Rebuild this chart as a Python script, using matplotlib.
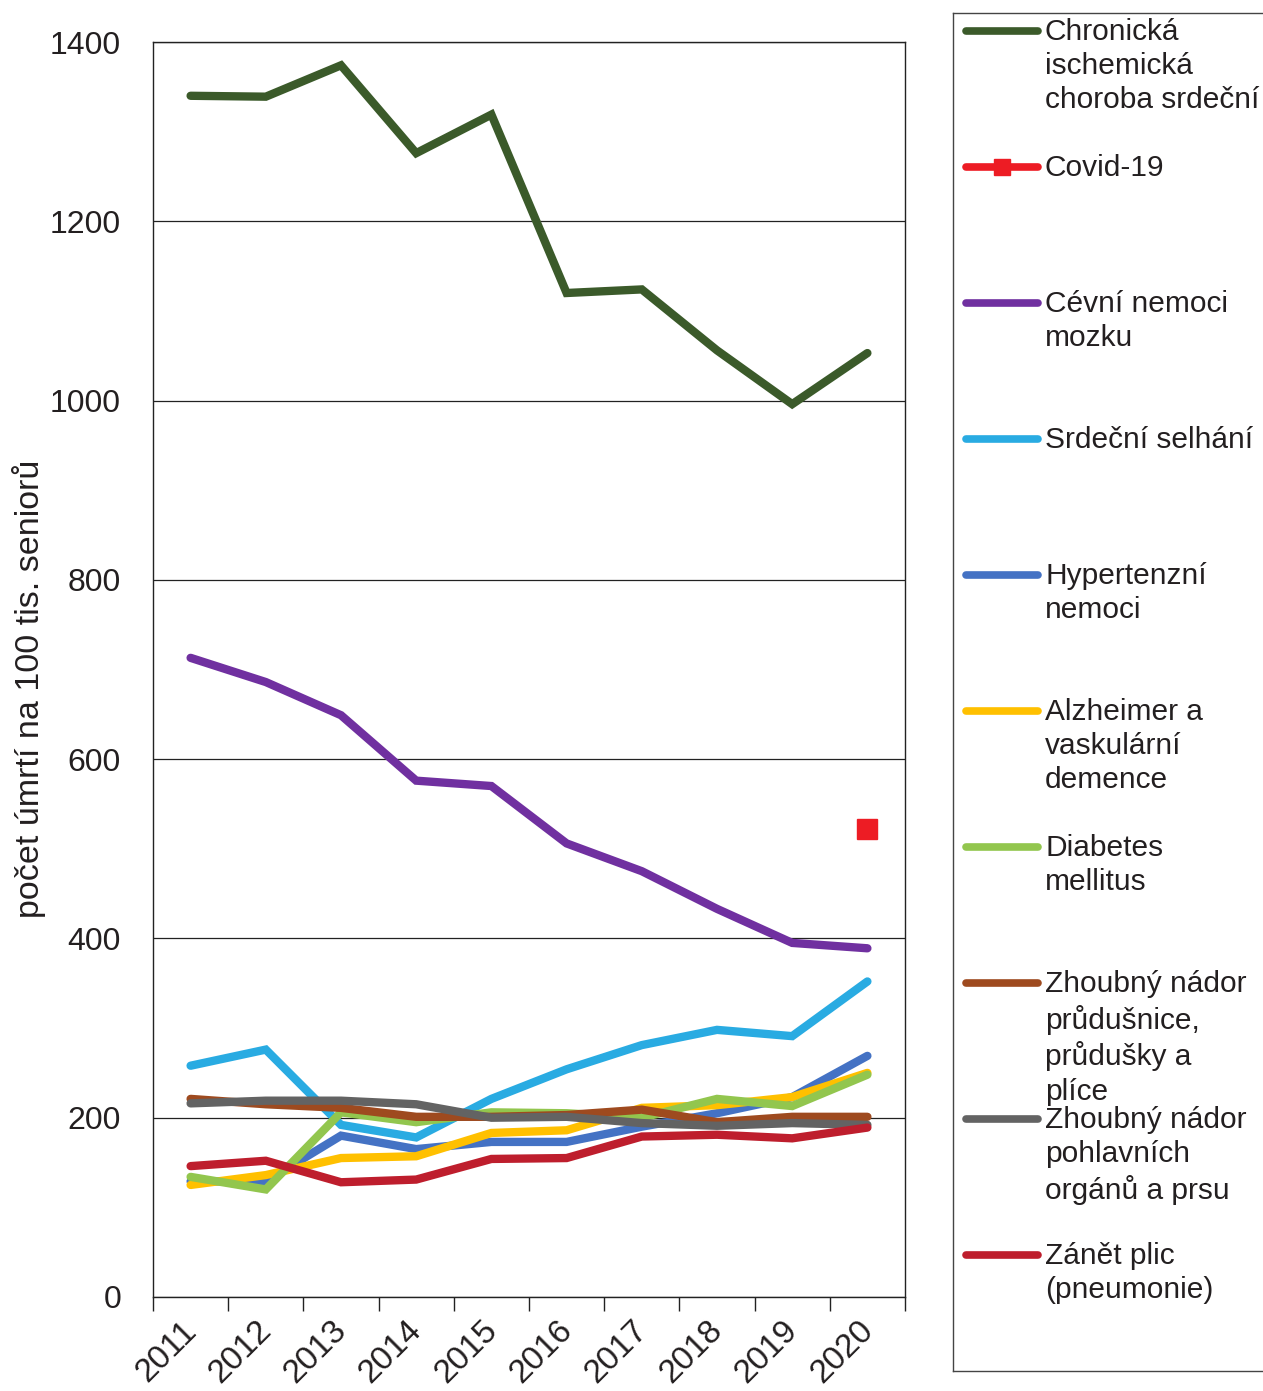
import matplotlib.pyplot as plt
from matplotlib import transforms
import numpy as np

plt.rcParams['font.family'] = ['Liberation Sans', 'DejaVu Sans']

years = ['2011', '2012', '2013', '2014', '2015', '2016', '2017', '2018', '2019', '2020']

ischemic = [1340, 1339, 1374, 1276, 1319, 1120, 1124, 1056, 996, 1053]
covid = [np.nan] * 9 + [522]
cerebro = [713, 686, 649, 576, 570, 506, 475, 433, 395, 389]
heart_fail = [258, 276, 192, 178, 221, 254, 281, 298, 291, 352]
hypert = [129, 129, 180, 165, 173, 173, 190, 205, 223, 269]
alzheimer = [125, 136, 155, 157, 183, 186, 211, 214, 223, 250]
diabetes = [134, 120, 206, 195, 206, 205, 200, 221, 213, 248]
lung_ca = [221, 215, 211, 201, 201, 203, 209, 195, 201, 201]
genital_ca = [216, 219, 219, 215, 200, 201, 194, 191, 194, 192]
pneumonia = [146, 152, 128, 131, 154, 155, 179, 181, 177, 189]

labels = ['Chronická\nischemická\nchoroba srdeční', 'Covid-19', 'Cévní nemoci\nmozku',
          'Srdeční selhání', 'Hypertenzní\nnemoci', 'Alzheimer a\nvaskulární\ndemence',
          'Diabetes\nmellitus', 'Zhoubný nádor\nprůdušnice,\nprůdušky a\nplíce',
          'Zhoubný nádor\npohlavních\norgánů a prsu', 'Zánět plic\n(pneumonie)']
series = [ischemic, covid, cerebro, heart_fail, hypert, alzheimer, diabetes,
          lung_ca, genital_ca, pneumonia]
colors = ['#3B5A2A', '#ED1C24', '#7030A0', '#29ABE2', '#4472C4', '#FFC000',
          '#92C64E', '#9E4A1F', '#636363', '#BE1E2D']
txt_col = '#231F20'

fig = plt.figure(figsize=(12.63, 13.91), dpi=100)
ax = fig.add_axes([153 / 1263, 1 - 1297 / 1391, 752 / 1263, 1255 / 1391])

x = np.arange(len(years))
for i, (vals, c) in enumerate(zip(series, colors)):
    if i == 1:
        ax.plot(x, vals, ls='none', marker='s', ms=15, color=c, zorder=3)
    else:
        ax.plot(x, vals, color=c, lw=6, solid_capstyle='round', solid_joinstyle='miter', zorder=3)

ax.set_xlim(-0.5, 9.5)
ax.set_ylim(0, 1400)
ax.set_yticks(np.arange(0, 1401, 200))
ax.tick_params(axis='y', length=0, labelsize=23, pad=23, labelcolor=txt_col)
ax.grid(axis='y', color='#222222', lw=0.9)
ax.set_axisbelow(True)
ax.set_xticks(x)
ax.set_xticklabels(years, rotation=45, ha='right', va='top', rotation_mode='anchor',
                   fontsize=24, color=txt_col)
ax.tick_params(axis='x', which='major', length=0, pad=13)
ax.set_xticks(np.arange(-0.5, 10, 1), minor=True)
ax.tick_params(axis='x', which='minor', length=10, width=1, color='#222222', direction='out')
for lab in ax.get_xticklabels():
    lab.set_transform(lab.get_transform() + transforms.ScaledTranslation(-0.1, 0, fig.dpi_scale_trans))
for s in ax.spines.values():
    s.set_color('#222222')
    s.set_linewidth(1)
ax.set_ylabel('počet úmrtí na 100 tis. seniorů', fontsize=24.5, color=txt_col)
ax.yaxis.set_label_coords(-0.142, 0.485)

# legend panel
lg = fig.add_axes([953 / 1263, 1 - 1371 / 1391, 320 / 1263, 1358 / 1391])
lg.set_xlim(953, 1273)
lg.set_ylim(1371, 13)
lg.set_xticks([])
lg.set_yticks([])
for s in lg.spines.values():
    s.set_color('#444444')
    s.set_linewidth(1)
for i, (lab, c) in enumerate(zip(labels, colors)):
    yy = 31 + 136 * i
    lg.plot([966, 1038], [yy, yy], color=c, lw=5.5, solid_capstyle='round')
    if i == 1:
        lg.plot([1002], [yy], marker='s', ms=12, color=c)
    lg.text(1045, yy - 13, lab, fontsize=21.5, va='top', ha='left', linespacing=1.28, color=txt_col)

fig.savefig('out.png', dpi=100)
